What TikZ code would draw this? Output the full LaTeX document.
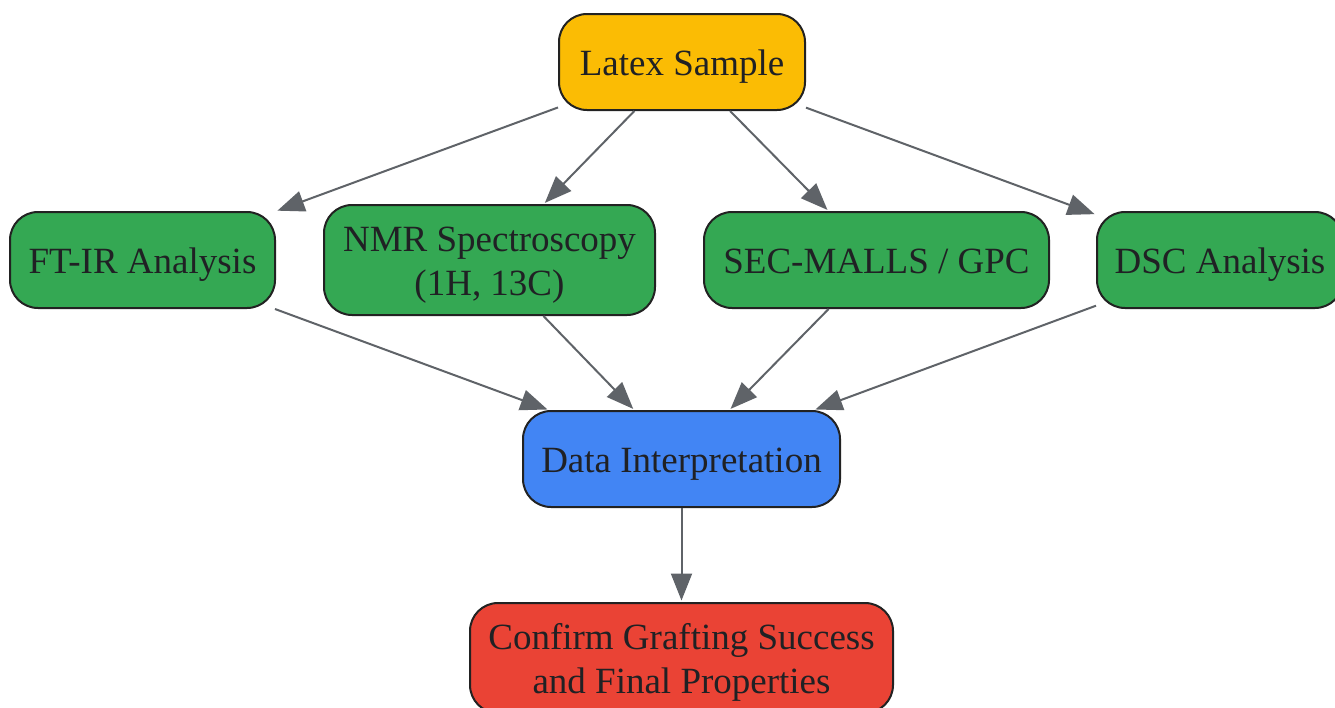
\documentclass[tikz,border=0pt]{standalone}
\usepackage{fontspec}
\setmainfont{Liberation Serif}
\usetikzlibrary{arrows.meta}
\definecolor{cyellow}{HTML}{FBBC04}
\definecolor{cgreen}{HTML}{34A853}
\definecolor{cblue}{HTML}{4285F4}
\definecolor{cred}{HTML}{EA4335}
\definecolor{cborder}{HTML}{222222}
\definecolor{carrow}{HTML}{5F6368}
\definecolor{ctext}{HTML}{202124}
\tikzset{
  box/.style={draw=cborder, line width=2pt, rounded corners=28pt, inner sep=0pt,
    font=\fontsize{37}{44}\selectfont, text=ctext, align=center,
    minimum height=96pt, text height=27pt, text depth=0pt},
  box2/.style={box, minimum height=110pt, text height=78pt, text depth=8pt},
  conn/.style={draw=carrow, line width=2pt, -{Triangle[length=27pt,width=21pt]}, shorten >=1.5pt}
}
\begin{document}
\begin{tikzpicture}[x=1pt,y=-1pt]
\useasboundingbox (0,0) rectangle (1335,707);
\begin{scope}
\clip (0,0) rectangle (1335,707);
\node[box, fill=cyellow, minimum width=246pt] (latex) at (682,62) {Latex Sample};
\node[box, fill=cgreen, minimum width=265pt] (ftir) at (142.5,260) {FT-IR Analysis};
\node[box2, fill=cgreen, minimum width=331pt] (nmr) at (489.5,260) {NMR Spectroscopy\\(1H, 13C)};
\node[box, fill=cgreen, minimum width=345pt] (sec) at (876.5,260) {SEC-MALLS / GPC};
\node[box, fill=cgreen, minimum width=246pt] (dsc) at (1220,260) {DSC Analysis};
\node[box, fill=cblue, minimum width=317pt] (data) at (681.5,459) {Data Interpretation};
\node[box2, fill=cred, minimum width=423pt] (conf) at (681.5,658) {Confirm Grafting Success\\and Final Properties};
\draw[conn] (latex) -- (ftir);
\draw[conn] (latex) -- (nmr);
\draw[conn] (latex) -- (sec);
\draw[conn] (latex) -- (dsc);
\draw[conn] (ftir) -- (data);
\draw[conn] (nmr) -- (data);
\draw[conn] (sec) -- (data);
\draw[conn] (dsc) -- (data);
\draw[conn] (data) -- (conf);
\end{scope}
\end{tikzpicture}
\end{document}
